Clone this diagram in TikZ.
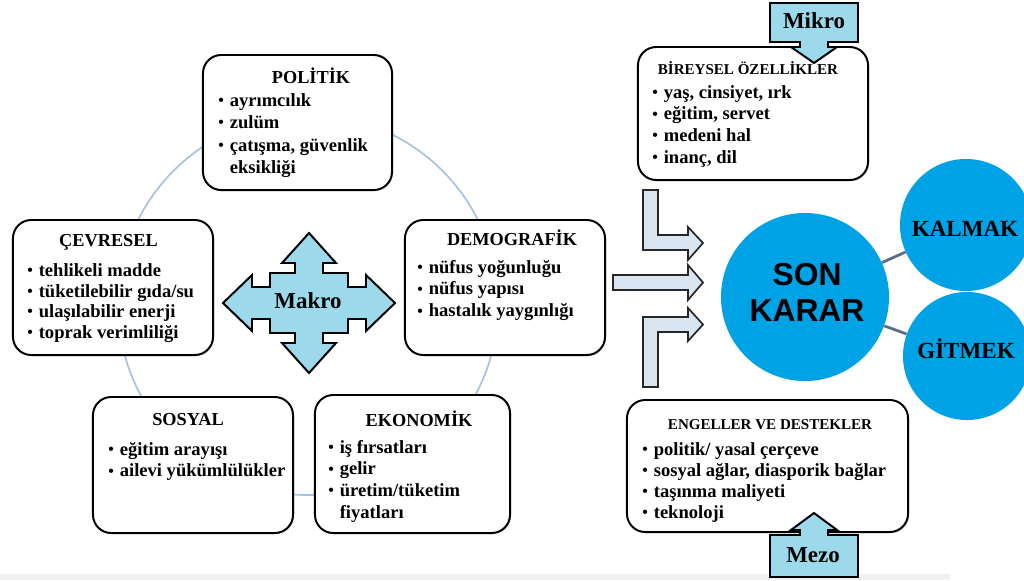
\documentclass[tikz,border=0pt]{standalone}
\usepackage{fontspec}
\setmainfont{Liberation Serif}
\newfontfamily\arialfont{Liberation Sans}
\usetikzlibrary{shadows}
\definecolor{makroblue}{RGB}{155,217,235}
\definecolor{kararblue}{RGB}{0,162,230}
\definecolor{ringblue}{RGB}{165,195,225}
\definecolor{flowfill}{RGB}{218,229,242}
\definecolor{linkgray}{RGB}{90,110,140}
\newcommand{\blt}{\makebox[8.2pt][l]{\raisebox{0.4pt}{\scalebox{0.85}{\textbullet}}}}
\newcommand{\cnt}{\hspace*{8.2pt}}
\begin{document}
\begin{tikzpicture}[x=0.025cm, y=-0.025cm,
    infobox/.style={draw, line width=1.4pt, rounded corners=13pt, fill=white, inner sep=0pt,
      drop shadow={shadow xshift=0.8pt, shadow yshift=-0.8pt, opacity=0.35}},
    boxtitle/.style={anchor=base, inner sep=0pt, font=\fontsize{13}{15}\selectfont\bfseries},
    smalltitle/.style={boxtitle, font=\fontsize{10.7}{13}\selectfont\bfseries},
    listitem/.style={anchor=base west, inner sep=0pt, font=\fontsize{13.2}{16}\selectfont\bfseries},
    levelarrow/.style={draw, line width=1.4pt, fill=makroblue, line join=miter},
    leveltext/.style={anchor=base, inner sep=0pt, font=\fontsize{16.3}{18}\selectfont\bfseries},
    flowarrow/.style={draw=black!85, line width=1.2pt, fill=flowfill},
    choicedisc/.style={circle, fill=kararblue, inner sep=0pt},
    choicetext/.style={anchor=base, inner sep=0pt, font=\fontsize{16.4}{18}\selectfont\bfseries},
    choicelink/.style={draw=linkgray, line width=2pt}]
  \clip (0,0) rectangle (1024,580);
  \fill[black!6] (0,574) rectangle (950,580);
  % ring behind the macro factors
  \draw[ringblue, line width=1.2pt] (308,305) circle (190);

  % macro boxes
  \node[infobox, minimum width=4.725cm, minimum height=3.375cm] (politik) at (297.5,122.5) {};
  \node[infobox, minimum width=5cm, minimum height=3.375cm] (cevresel) at (113,287.5) {};
  \node[infobox, minimum width=5cm, minimum height=3.375cm] (demografik) at (505,287.5) {};
  \node[infobox, minimum width=5cm, minimum height=3.4cm] (sosyal) at (193,465) {};
  \node[infobox, minimum width=4.875cm, minimum height=3.45cm] (ekonomik) at (412.5,464) {};
  \node[infobox, minimum width=5.75cm, minimum height=3.325cm] (bireysel) at (753,113.5) {};
  \node[infobox, minimum width=7.025cm, minimum height=3.3cm] (engeller) at (767.5,466) {};

  \node[boxtitle] (politiktitle) at (311,83) {POLİTİK};
  \foreach \t [count=\i] in {\blt ayrımcılık, \blt zulüm, {\blt çatışma, güvenlik}, \cnt eksikliği}
    \node[listitem] (politik\i) at (218,{106+22.5*(\i-1)}) {\t};

  \node[boxtitle] (cevreseltitle) at (108.5,246) {ÇEVRESEL};
  \foreach \t [count=\i] in {tehlikeli madde, tüketilebilir gıda/su, ulaşılabilir enerji, toprak verimliliği}
    \node[listitem] (cevresel\i) at (27,{276.5+20.5*(\i-1)}) {\blt\t};

  \node[boxtitle] (demografiktitle) at (512,245) {DEMOGRAFİK};
  \foreach \t [count=\i] in {nüfus yoğunluğu, nüfus yapısı, hastalık yaygınlığı}
    \node[listitem] (demografik\i) at (417,{273+21.8*(\i-1)}) {\blt\t};

  \node[boxtitle] (sosyaltitle) at (188,425) {SOSYAL};
  \foreach \t [count=\i] in {eğitim arayışı, ailevi yükümlülükler}
    \node[listitem] (sosyal\i) at (108,{455+21.7*(\i-1)}) {\blt\t};

  \node[boxtitle] (ekonomiktitle) at (419,426.7) {EKONOMİK};
  \foreach \t [count=\i] in {\blt iş fırsatları, \blt gelir, \blt üretim/tüketim, \cnt fiyatları}
    \node[listitem] (ekonomik\i) at (328,{453+21.7*(\i-1)}) {\t};

  \node[smalltitle] (bireyseltitle) at (748,74) {BİREYSEL ÖZELLİKLER};
  \foreach \t [count=\i] in {{yaş, cinsiyet, ırk}, {eğitim, servet}, medeni hal, {inanç, dil}}
    \node[listitem] (bireysel\i) at (652,{98+21.7*(\i-1)}) {\blt\t};

  \node[smalltitle] (engellertitle) at (770,429) {ENGELLER VE DESTEKLER};
  \foreach \t [count=\i] in {politik/ yasal çerçeve, {sosyal ağlar, diasporik bağlar}, taşınma maliyeti, teknoloji}
    \node[listitem] (engeller\i) at (642,{455+21*(\i-1)}) {\blt\t};

  % Makro cross arrow
  \draw[levelarrow, shift={(309,303)}] (0,-70) -- (27,-40) -- (14,-40) -- (14,-30) -- (39,-30)
    -- (39,-16) -- (57,-16) -- (57,-28) -- (86,0) -- (57,28) -- (57,16) -- (39,16) -- (39,30)
    -- (14,30) -- (14,40) -- (27,40) -- (0,70) -- (-27,40) -- (-14,40) -- (-14,30) -- (-39,30)
    -- (-39,16) -- (-57,16) -- (-57,28) -- (-86,0) -- (-57,-28) -- (-57,-16) -- (-39,-16)
    -- (-39,-30) -- (-14,-30) -- (-14,-40) -- (-27,-40) -- cycle;
  \node[leveltext] (makro) at (308,308) {Makro};

  % Mikro and Mezo callouts
  \draw[levelarrow] (770,3) -- (858,3) -- (858,42) -- (828,42) -- (828,47) -- (837,47) -- (814,63)
    -- (791,47) -- (800,47) -- (800,42) -- (770,42) -- cycle;
  \node[leveltext] (mikro) at (814,28) {Mikro};
  \draw[levelarrow] (770,577) -- (858,577) -- (858,535) -- (828,535) -- (828,530) -- (837,530)
    -- (814,513) -- (791,530) -- (800,530) -- (800,535) -- (770,535) -- cycle;
  \node[leveltext] (mezo) at (813,562) {Mezo};

  % arrows into the decision
  \draw[flowarrow] (643,190) -- (658,190) -- (658,235) -- (688,235) -- (688,227) -- (703,243)
    -- (688,260) -- (688,250) -- (643,250) -- cycle;
  \draw[flowarrow] (613,275) -- (688,275) -- (688,265) -- (703,282.5) -- (688,300) -- (688,290)
    -- (613,290) -- cycle;
  \draw[flowarrow] (643,387) -- (643,317) -- (688,317) -- (688,308) -- (703,324.5) -- (688,341)
    -- (688,332) -- (658,332) -- (658,387) -- cycle;

  % decision circles
  \node[choicedisc, minimum size=4.2cm] (sonkarar) at (805,297) {};
  \node[choicedisc, minimum size=3.3cm] (kalmak) at (966,225) {};
  \node[choicedisc, minimum size=3.2cm] (gitmek) at (967,356) {};
  \draw[choicelink] (sonkarar) -- (kalmak);
  \draw[choicelink] (sonkarar) -- (gitmek);
  \node[font=\arialfont\fontsize{22.6}{25.5}\selectfont\bfseries, align=center, inner sep=0pt]
    (sonkarartext) at (807,292) {SON\\KARAR};
  \node[choicetext] (kalmaktext) at (965,236.7) {KALMAK};
  \node[choicetext] (gitmektext) at (966,358) {GİTMEK};
\end{tikzpicture}
\end{document}
